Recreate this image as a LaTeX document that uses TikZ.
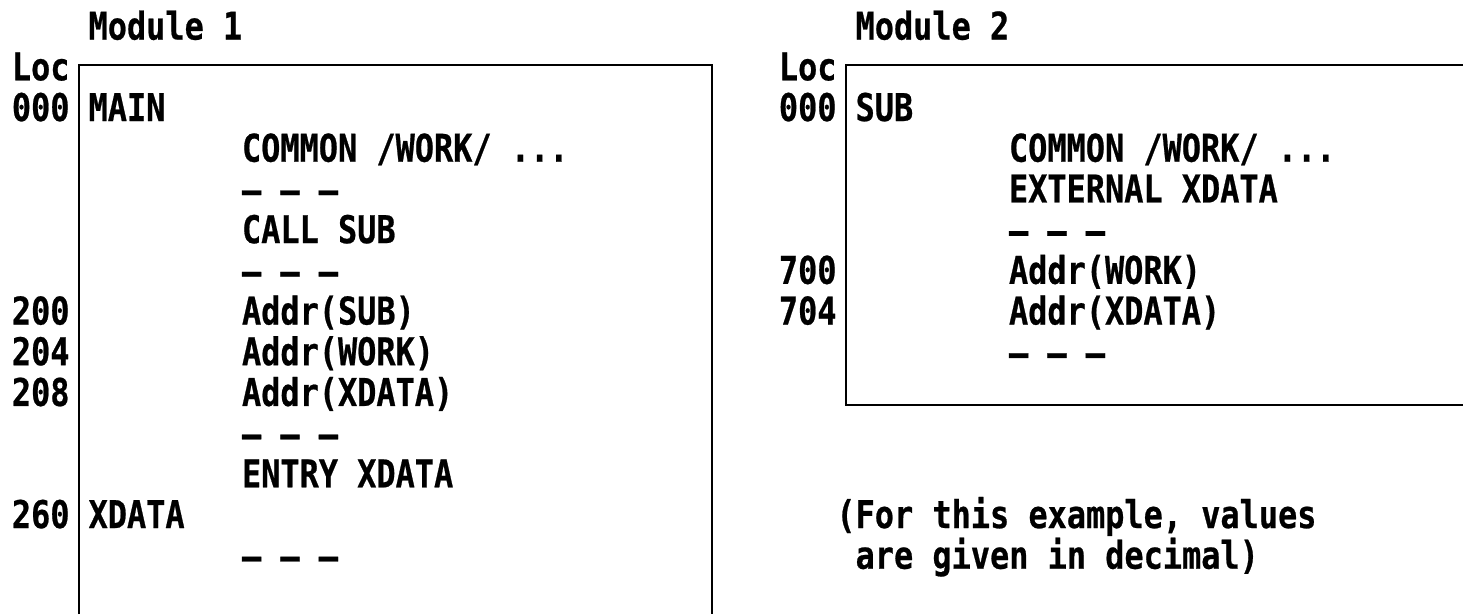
\documentclass[tikz,border=0pt]{standalone}
\usepackage{fontspec}
\newfontfamily\codefont[FakeStretch=0.835,FakeBold=0.6]{DejaVu Sans Mono}
\begin{document}
\begin{tikzpicture}[x=1pt,y=-1pt,
  txt/.style={anchor=base west,inner sep=0pt,outer sep=0pt,
    font=\codefont\bfseries\fontsize{38.2}{40}\selectfont},
  frame/.style={line width=2.6pt,line cap=butt,line join=miter}]
\useasboundingbox (0,0) rectangle (1463,614);
% ---- frames ----
\coordinate (b1tl) at (79,65);
\coordinate (b1tr) at (712,65);
\coordinate (b1bl) at (79,614);
\coordinate (b1br) at (712,614);
\draw[frame] (b1bl) -- (b1tl) -- (b1tr) -- (b1br);
\coordinate (b2tl) at (846,65);
\coordinate (b2tr) at (1463,65);
\coordinate (b2bl) at (846,405);
\coordinate (b2br) at (1463,405);
\draw[frame] (b2tr) -- (b2tl) -- (b2bl) -- (b2br);
% ---- module 1 ----
\node[txt] (m1)   at (88.6,39.6)  {Module 1};
\node[txt] (loc1) at (11.9,80.3)  {Loc};
\node[txt] (l000) at (11.9,121.0) {000};
\node[txt] (main) at (88.6,121.0) {MAIN};
\node[txt] (c1)   at (242.0,161.7) {COMMON /WORK/ ...};
\node[txt] (d1)   at (242.0,203.4) {— — —};
\node[txt] (call) at (242.0,243.1) {CALL SUB};
\node[txt] (d2)   at (242.0,284.8) {— — —};
\node[txt] (l200) at (11.9,324.5) {200};
\node[txt] (a200) at (242.0,324.5) {Addr(SUB)};
\node[txt] (l204) at (11.9,365.2) {204};
\node[txt] (a204) at (242.0,365.2) {Addr(WORK)};
\node[txt] (l208) at (11.9,405.9) {208};
\node[txt] (a208) at (242.0,405.9) {Addr(XDATA)};
\node[txt] (d3)   at (242.0,447.6) {— — —};
\node[txt] (entry) at (242.0,487.3) {ENTRY XDATA};
\node[txt] (l260) at (11.9,528.0) {260};
\node[txt] (xd)   at (88.6,528.0) {XDATA};
\node[txt] (d4)   at (242.0,569.7) {— — —};
% ---- module 2 ----
\node[txt] (m2)   at (855.6,39.6)  {Module 2};
\node[txt] (loc2) at (778.9,80.3)  {Loc};
\node[txt] (s000) at (778.9,121.0) {000};
\node[txt] (sub)  at (855.6,121.0) {SUB};
\node[txt] (c2)   at (1009.0,161.7) {COMMON /WORK/ ...};
\node[txt] (ext)  at (1009.0,202.4) {EXTERNAL XDATA};
\node[txt] (d5)   at (1009.0,244.1) {— — —};
\node[txt] (l700) at (778.9,283.8) {700};
\node[txt] (a700) at (1009.0,283.8) {Addr(WORK)};
\node[txt] (l704) at (778.9,324.5) {704};
\node[txt] (a704) at (1009.0,324.5) {Addr(XDATA)};
\node[txt] (d6)   at (1009.0,366.2) {— — —};
% ---- note ----
\node[txt] (n1) at (836.4,528.0) {(For this example, values};
\node[txt] (n2) at (855.6,568.7) {are given in decimal)};
\end{tikzpicture}
\end{document}
